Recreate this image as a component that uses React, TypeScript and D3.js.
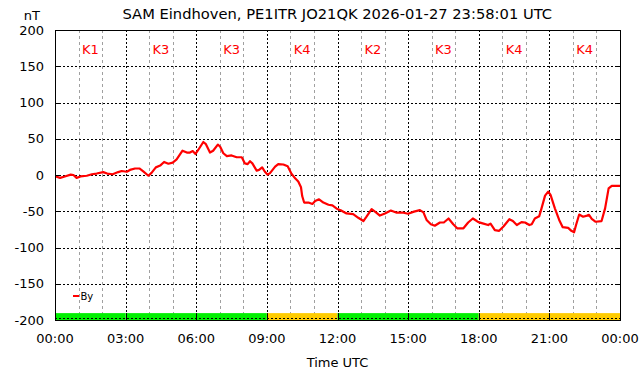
import React from "react";
import * as d3 from "d3";

const TITLE = "SAM Eindhoven, PE1ITR JO21QK 2026-01-27 23:58:01 UTC";
const Y_TICKS = [-200, -150, -100, -50, 0, 50, 100, 150, 200];
const X_TICK_LABELS = ["00:00", "03:00", "06:00", "09:00", "12:00", "15:00", "18:00", "21:00", "00:00"];
const K_VALUES = [1, 3, 3, 4, 2, 3, 4, 4];

// minutes since 00:00 UTC
const TIMES = [
  2, 13, 25, 40, 47, 55, 65, 81, 94, 106, 123, 133, 147, 161, 170, 183, 191, 204, 215, 225,
  238, 246, 257, 268, 278, 289, 300, 310, 325, 336, 344, 351, 358, 365, 378, 384, 395, 403,
  415, 421, 429, 438, 450, 463, 476, 484, 491, 497, 503, 514, 520, 528, 535, 542, 548, 561,
  569, 582, 593, 603, 612, 620, 627, 630, 635, 646, 656, 663, 673, 684, 697, 707, 718, 728,
  743, 760, 773, 786, 794, 807, 818, 828, 841, 856, 871, 888, 900, 915, 930, 939, 947, 958,
  968, 981, 991, 1003, 1015, 1025, 1041, 1053, 1065, 1075, 1079, 1092, 1104, 1110, 1121,
  1132, 1143, 1158, 1167, 1177, 1189, 1198, 1209, 1215, 1223, 1234, 1240, 1249, 1257, 1263,
  1274, 1285, 1294, 1308, 1316, 1323, 1328, 1336, 1346, 1356, 1361, 1368, 1378, 1393, 1402,
  1411, 1419, 1440,
];
// By in nT
const BY = [
  -2, -4, -2, 0.5, 0, -4, -2, -1, 1, 2, 4, 2, 1, 4, 5.5, 4.5, 7, 9, 9, 5,
  -1, 3, 10.5, 13, 18, 15.5, 17, 21.5, 33.5, 31, 31, 33, 29, 34.5, 45.5, 43, 31, 33.5,
  42, 39, 30, 26, 27, 24.5, 24.5, 16, 15, 19, 16, 6, 7, 10.5, 4.5, 0.5, 2.5, 11.5,
  15, 14.5, 12, 1.5, -4.5, -9, -17, -29, -38, -38, -40, -36, -33.5, -38, -41, -42, -46.5, -48.5,
  -53, -54, -59, -63.5, -57.5, -47, -51.5, -56, -53, -49, -52, -52, -53.5, -50.5, -48.5, -51.5, -62, -68,
  -70, -65.5, -65.5, -60, -68, -73.5, -73.5, -65.5, -60, -63.5, -65, -67, -69, -67, -76,
  -77, -71, -61, -63.5, -69, -65, -65.5, -69, -68, -60, -57, -46, -28.5, -23, -27.5,
  -46, -62, -72, -73, -77, -79, -69, -54.5, -57.5, -56, -55, -60.5, -64.5, -63.5, -46,
  -18.5, -15, -15,
];

const W = 642;
const H = 376;
const L = 55, R = 620, T = 30, B = 320;
const FONT = "DejaVu Sans";

export default function App() {
  const x = d3.scaleLinear().domain([0, 1440]).range([L, R]);
  const y = d3.scaleLinear().domain([-200, 200]).range([B, T]);
  const pts = TIMES.map((t, i) => [x(t), y(BY[i])] as [number, number]);
  const line = d3.line().curve(d3.curveLinear)(pts) || "";
  const hours = d3.range(1, 24);
  const crisp = (v: number) => Math.round(v) + 0.5;
  const barTop = y(-190.5);

  return (
    <svg width={W} height={H} style={{ position: "fixed", left: 0, top: 0, background: "#fff" }} fontFamily={FONT}>
      <rect x={0} y={0} width={W} height={H} fill="#fff" />
      {/* vertical grid */}
      {hours.map((h) => {
        const xx = crisp(x(h * 60));
        const major = h % 3 === 0;
        return (
          <line key={"v" + h} x1={xx} x2={xx} y1={T} y2={B}
            stroke={major ? "#000" : "#a0a0a0"} strokeWidth={1}
            strokeDasharray={major ? "2,2" : "3,3"} />
        );
      })}
      {/* horizontal grid */}
      {Y_TICKS.slice(1, -1).map((v) => {
        const yy = crisp(y(v));
        return <line key={"h" + v} x1={L} x2={R} y1={yy} y2={yy} stroke="#000" strokeDasharray="2,2" />;
      })}
      {/* K index bar */}
      {K_VALUES.map((k, i) => (
        <rect key={"b" + i} x={x(i * 180)} y={barTop} width={x((i + 1) * 180) - x(i * 180)} height={B - barTop + 1}
          fill={k >= 4 ? "#ffcc00" : "#00f000"} />
      ))}
      <line x1={L} x2={R} y1={B - 1.5} y2={B - 1.5} stroke="#000" strokeDasharray="2,2" />
      {K_VALUES.map((k, i) => i > 0 ? (
        <line key={"s" + i} x1={crisp(x(i * 180))} x2={crisp(x(i * 180))} y1={barTop} y2={B} stroke="#000" />
      ) : null)}
      {/* K labels */}
      {K_VALUES.map((k, i) => (
        <text key={"k" + i} x={x(i * 180 + 90)} y={54} textAnchor="middle" fontSize={13} fill="#ff0000">{"K" + k}</text>
      ))}
      {/* data line */}
      <path d={line} fill="none" stroke="#ff0000" strokeWidth={2.2} strokeLinejoin="round" />
      {/* frame */}
      <rect x={L + 0.5} y={T + 0.5} width={R - L} height={B - T} fill="none" stroke="#000" />
      {/* y ticks */}
      {Y_TICKS.map((v) => (
        <g key={"yt" + v}>
          <line x1={L} x2={L + 4} y1={crisp(y(v))} y2={crisp(y(v))} stroke="#000" />
          <line x1={R - 4} x2={R} y1={crisp(y(v))} y2={crisp(y(v))} stroke="#000" />
          <text x={44} y={y(v) + 4.5} textAnchor="end" fontSize={13} fill="#000">{v}</text>
        </g>
      ))}
      {/* x tick labels */}
      {X_TICK_LABELS.map((s, i) => (
        <text key={"xt" + i} x={x(i * 180)} y={343} textAnchor="middle" fontSize={13} fill="#000">{s}</text>
      ))}
      <text x={(L + R) / 2} y={367} textAnchor="middle" fontSize={13} fill="#000">Time UTC</text>
      <text x={40} y={20} textAnchor="end" fontSize={13} fill="#000">nT</text>
      <text x={122.5} y={19} textAnchor="start" fontSize={14.7} fill="#000">{TITLE}</text>
      {/* legend */}
      <line x1={73} x2={79} y1={296} y2={296} stroke="#ff0000" strokeWidth={2} />
      <text x={80.5} y={299.5} fontSize={10} fill="#000">By</text>
    </svg>
  );
}
